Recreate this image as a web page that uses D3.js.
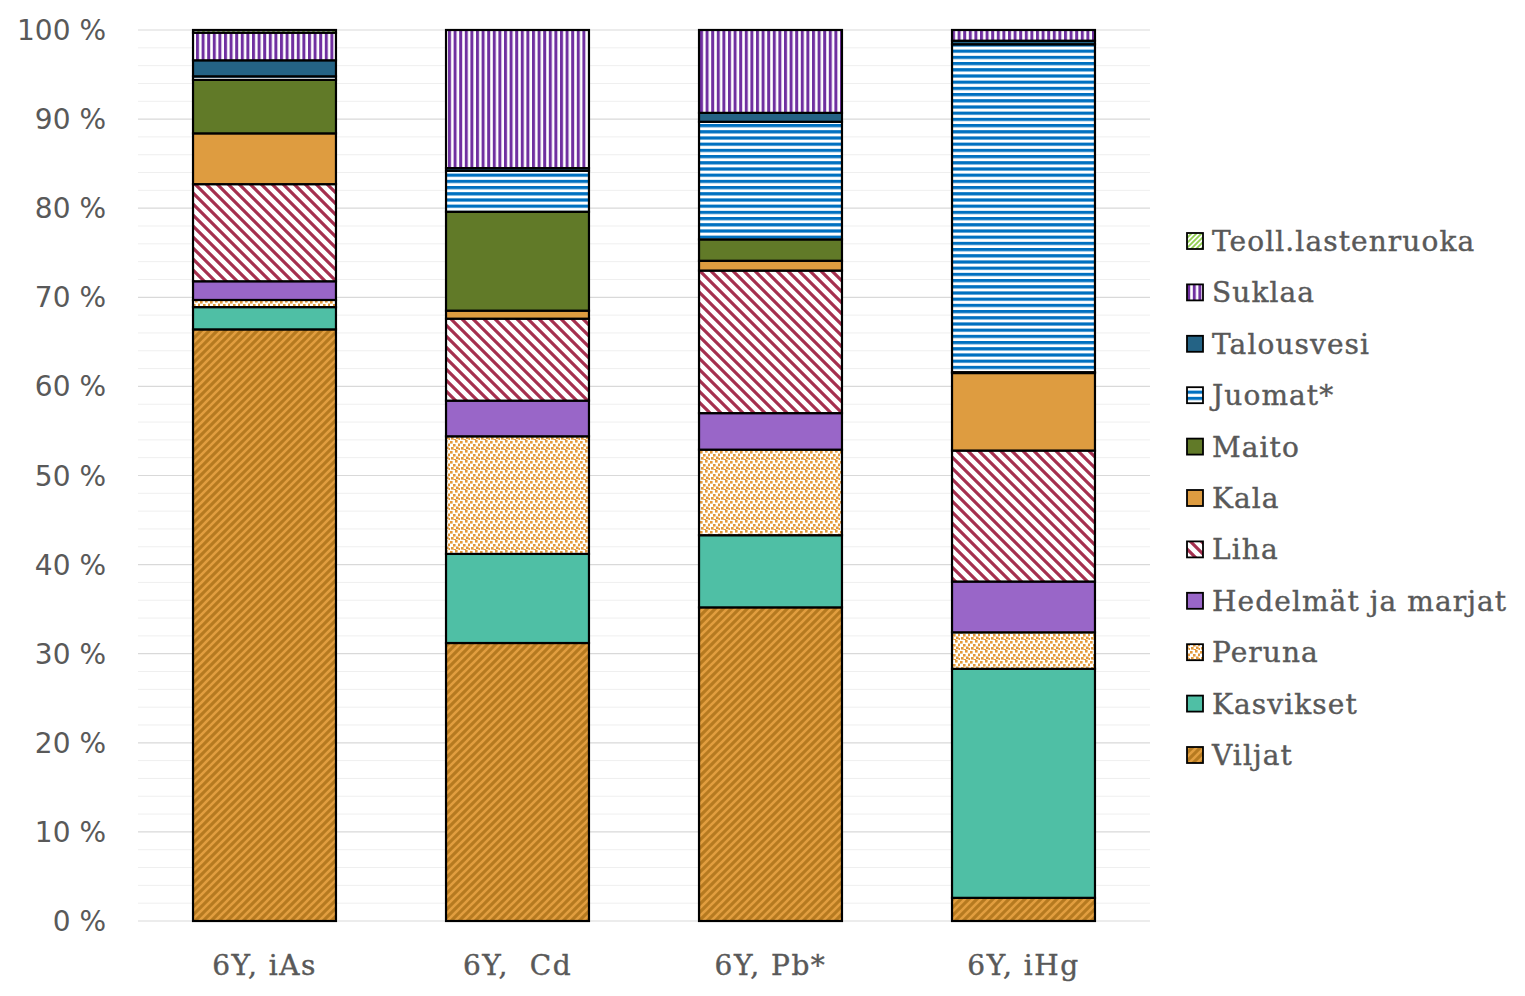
<!DOCTYPE html>
<html><head><meta charset="utf-8">
<script src="https://cdn.jsdelivr.net/npm/d3@7"></script>
<style>body{margin:0;background:#fff}</style>
</head><body><svg id="c" width="1525" height="996"></svg>
<script>
const categories = ["6Y, iAs", "6Y,  Cd", "6Y, Pb*", "6Y, iHg"];
const seriesNames = ["Viljat","Kasvikset","Peruna","Hedelmät ja marjat","Liha","Kala","Maito","Juomat*","Talousvesi","Suklaa","Teoll.lastenruoka"];
const Viljat     = [66.4, 31.2, 35.2, 2.6];
const Kasvikset  = [2.5, 10.0, 8.1, 25.7];
const Peruna     = [0.8, 13.2, 9.6, 4.1];
const Hedelmat   = [2.1, 4.0, 4.1, 5.7];
const Liha       = [10.9, 9.2, 16.0, 14.7];
const Kala       = [5.7, 0.9, 1.1, 8.7];
const Maito      = [6.0, 11.1, 2.4, 0.1];
const Juomat     = [0.4, 4.6, 13.2, 36.8];
const Talousvesi = [1.8, 0.3, 1.0, 0.4];
const Suklaa     = [3.1, 15.5, 9.3, 1.2];
const Teoll      = [0.3, 0.0, 0.0, 0.0];
const yTicks = [0,10,20,30,40,50,60,70,80,90,100];

const seriesValues = [Viljat,Kasvikset,Peruna,Hedelmat,Liha,Kala,Maito,Juomat,Talousvesi,Suklaa,Teoll];
const rows = categories.map((c,i)=>{const r={cat:c}; seriesNames.forEach((s,j)=>r[s]=seriesValues[j][i]); return r;});

const svg = d3.select("#c");
const defs = svg.append("defs");
function pat(id,w,h,bg,draw){
  const p = defs.append("pattern").attr("id",id).attr("patternUnits","userSpaceOnUse").attr("width",w).attr("height",h);
  p.append("rect").attr("width",w).attr("height",h).attr("fill",bg);
  draw(p); return "url(#"+id+")";
}
const fills = {};
fills["Viljat"] = pat("pV",8,8,"#b67a20",p=>{
  p.append("path").attr("d","M-2,10 L10,-2 M-2,2 L2,-2 M6,10 L10,6").attr("stroke","#e29e3f").attr("stroke-width",2.6);
});
fills["Kasvikset"] = "#4fbfa5";
fills["Peruna"] = pat("pP",10,10,"#ffffff",p=>{
  const pts=[[0,1],[5,0],[3,4],[8,3.5],[1,7],[6,6.5],[3.5,9],[8.5,8]];
  pts.forEach(d=>p.append("rect").attr("x",d[0]).attr("y",d[1]).attr("width",2.6).attr("height",2.6).attr("fill","#e3993a"));
});
fills["Hedelmät ja marjat"] = "#9966c8";
fills["Liha"] = pat("pL",11,11,"#ffffff",p=>{
  p.append("path").attr("d","M-3,-3 L14,14 M-3,8 L3,14 M8,-3 L14,3").attr("stroke","#a5304f").attr("stroke-width",3.2);
});
fills["Kala"] = "#de9c40";
fills["Maito"] = "#617a28";
fills["Juomat*"] = pat("pJ",6,6.2,"#ffffff",p=>{
  p.append("rect").attr("x",0).attr("y",0).attr("width",6).attr("height",3.2).attr("fill","#0070c0");
});
fills["Talousvesi"] = "#246385";
fills["Suklaa"] = pat("pS",5.6,6,"#ffffff",p=>{
  p.append("rect").attr("x",0).attr("y",0).attr("width",3).attr("height",6).attr("fill","#7030a0");
});
fills["Teoll.lastenruoka"] = pat("pT",5,5,"#ffffff",p=>{
  p.append("path").attr("d","M-1,6 L6,-1 M-1,1 L1,-1 M4,6 L6,4").attr("stroke","#92d050").attr("stroke-width",1.8);
});

const pLeft=138, pRight=1150, pTop=30, pBottom=921;
const x = d3.scaleBand().domain(categories).range([pLeft,pRight]).paddingInner(0.435).paddingOuter(0.2175);
const y = d3.scaleLinear().domain([0,100]).range([pBottom,pTop]);

// minor gridlines
const minor = d3.range(0,101,2).filter(v=>v%10!==0);
svg.append("g").selectAll("line").data(minor).join("line")
  .attr("x1",pLeft).attr("x2",pRight).attr("y1",d=>y(d)).attr("y2",d=>y(d))
  .attr("stroke","#efefef").attr("stroke-width",1);
svg.append("g").selectAll("line").data(yTicks).join("line")
  .attr("x1",pLeft).attr("x2",pRight).attr("y1",d=>y(d)).attr("y2",d=>y(d))
  .attr("stroke","#d9d9d9").attr("stroke-width",1.2);

// y labels
svg.append("g").selectAll("text").data(yTicks).join("text")
  .attr("x",106).attr("y",d=>y(d)).attr("dy","0.36em").attr("text-anchor","end")
  .attr("font-family","DejaVu Sans, sans-serif").attr("font-size",28).attr("fill","#595959")
  .text(d=>d+" %");

const stack = d3.stack().keys(seriesNames)(rows);
const g = svg.append("g");
stack.forEach(s=>{
  g.append("g").selectAll("rect").data(s).join("rect")
   .attr("x",d=>x(d.data.cat)).attr("width",x.bandwidth())
   .attr("y",d=>y(d[1])).attr("height",d=>y(d[0])-y(d[1]))
   .attr("fill",fills[s.key]).attr("stroke","#000").attr("stroke-width",d=>(d[1]-d[0])>0?2.2:0);
});

// x labels
svg.append("g").selectAll("text").data(categories).join("text")
  .attr("x",d=>x(d)+x.bandwidth()/2).attr("y",975).attr("text-anchor","middle")
  .attr("font-family","DejaVu Serif, serif").attr("font-size",28).attr("fill","#595959")
  .attr("letter-spacing",1.5).attr("stroke","#595959").attr("stroke-width",0.4)
  .style("white-space","pre")
  .text(d=>d);

// legend
const leg = svg.append("g");
const legNames = seriesNames.slice().reverse();
legNames.forEach((n,i)=>{
  const cy = 241 + i*51.4;
  leg.append("rect").attr("x",1187).attr("y",cy-8).attr("width",16).attr("height",16)
    .attr("fill",fills[n]).attr("stroke","#000").attr("stroke-width",1.8);
  leg.append("text").attr("x",1212).attr("y",cy).attr("dy","0.36em")
    .attr("font-family","DejaVu Serif, serif").attr("font-size",28).attr("fill","#595959")
    .attr("letter-spacing",1.1).attr("stroke","#595959").attr("stroke-width",0.4).text(n);
});
</script></body></html>
